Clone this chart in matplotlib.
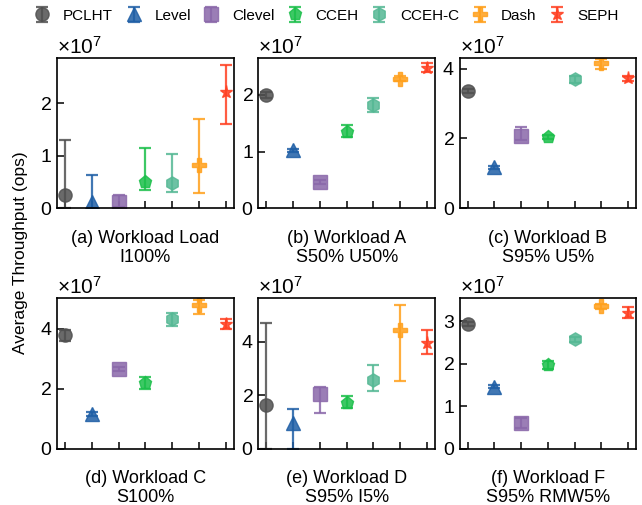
import matplotlib
matplotlib.use('Agg')
import matplotlib.pyplot as plt
from matplotlib.ticker import ScalarFormatter
import numpy as np

plt.rcParams['font.family'] = ['Liberation Sans', 'DejaVu Sans']
plt.rcParams['mathtext.fontset'] = 'custom'
plt.rcParams['mathtext.rm'] = 'Liberation Sans'
plt.rcParams['mathtext.it'] = 'Liberation Sans:italic'

names = ["PCLHT", "Level", "Clevel", "CCEH", "CCEH-C", "Dash", "SEPH"]
colors = ["#505050", "#1f5fa6", "#8a68aa", "#1bbf4a", "#55b894", "#ffa01c", "#ff4022"]
markers = ["o", "^", "s", "p", "h", "P", "*"]

# throughput in units of 1e7 ops: mean, lower end, upper end of error bar
load_mean = [0.25, 0.12, 0.12, 0.50, 0.48, 0.83, 2.21]
load_lo   = [0.00, 0.00, 0.02, 0.35, 0.31, 0.29, 1.61]
load_hi   = [1.29, 0.64, 0.25, 1.15, 1.04, 1.70, 2.73]

a_mean = [2.00, 1.02, 0.455, 1.34, 1.82, 2.29, 2.47]
a_lo   = [1.95, 0.99, 0.42, 1.26, 1.69, 2.24, 2.40]
a_hi   = [2.05, 1.05, 0.49, 1.47, 1.94, 2.33, 2.56]

b_mean = [3.36, 1.17, 2.08, 2.05, 3.70, 4.15, 3.72]
b_lo   = [3.30, 1.12, 1.95, 1.98, 3.60, 4.00, 3.66]
b_hi   = [3.42, 1.22, 2.33, 2.10, 3.78, 4.29, 3.78]

c_mean = [3.79, 1.16, 2.66, 2.18, 4.31, 4.77, 4.15]
c_lo   = [3.57, 1.10, 2.60, 1.99, 4.10, 4.49, 3.98]
c_hi   = [3.96, 1.22, 2.72, 2.38, 4.51, 4.96, 4.31]

d_mean = [1.64, 0.98, 2.05, 1.73, 2.57, 4.44, 3.94]
d_lo   = [0.00, 0.00, 1.33, 1.52, 2.16, 2.54, 3.54]
d_hi   = [4.69, 1.49, 2.30, 1.99, 3.13, 5.37, 4.44]

f_mean = [2.93, 1.46, 0.60, 1.97, 2.57, 3.35, 3.18]
f_lo   = [2.89, 1.42, 0.48, 1.87, 2.50, 3.29, 3.06]
f_hi   = [2.97, 1.50, 0.72, 2.07, 2.63, 3.41, 3.32]

titles = ["(a) Workload Load\nI100%", "(b) Workload A\nS50% U50%",
          "(c) Workload B\nS95% U5%", "(d) Workload C\nS100%",
          "(e) Workload D\nS95% I5%", "(f) Workload F\nS95% RMW5%"]
ytop = [2.87, 2.66, 4.32, 5.0, 5.62, 3.53]
yticks = [[0, 1, 2], [0, 1, 2], [0, 2, 4], [0, 2, 4], [0, 2, 4], [0, 1, 2, 3]]

workloads = [(load_mean, load_lo, load_hi), (a_mean, a_lo, a_hi),
             (b_mean, b_lo, b_hi), (c_mean, c_lo, c_hi),
             (d_mean, d_lo, d_hi), (f_mean, f_lo, f_hi)]

fig, axes = plt.subplots(2, 3, figsize=(6.42, 5.05), dpi=100)
fig.subplots_adjust(left=0.089, right=0.991, top=0.886, bottom=0.111,
                    wspace=0.14, hspace=0.6)

handles = []
for k, ax in enumerate(axes.flat):
    mean, lo, hi = workloads[k]
    for i in range(len(names)):
        m = mean[i] * 1e7
        err = [[m - lo[i] * 1e7], [hi[i] * 1e7 - m]]
        h = ax.errorbar([i], [m], yerr=err, fmt=markers[i], color=colors[i],
                        markersize=9.5, capsize=4, elinewidth=1.6, capthick=1.6,
                        alpha=0.85)
        if k == 0:
            handles.append(h)
    ax.set_xlim(-0.3, 6.3)
    ax.set_ylim(0, ytop[k] * 1e7)
    ax.set_xticks(range(len(names)))
    ax.set_xticklabels([])
    ax.set_yticks([v * 1e7 for v in yticks[k]])
    fmt = ScalarFormatter(useMathText=True)
    fmt.set_powerlimits((0, 0))
    ax.yaxis.set_major_formatter(fmt)
    ax.yaxis.get_offset_text().set_fontsize(15)
    ax.tick_params(direction='in', length=5, width=1.1, labelsize=14)
    for s in ax.spines.values():
        s.set_linewidth(1.2)
    ax.set_xlabel(titles[k], fontsize=13, labelpad=12, linespacing=1.15)

fig.text(0.032, 0.5, "Average Throughput (ops)", rotation=90,
         va='center', ha='center', fontsize=12.5)

fig.legend(handles, names, loc='upper center', bbox_to_anchor=(0.51, 1.01),
           ncol=7, frameon=False, fontsize=11, handletextpad=0.95,
           columnspacing=0.95, handlelength=0.8)

fig.savefig("out.png", dpi=100)
